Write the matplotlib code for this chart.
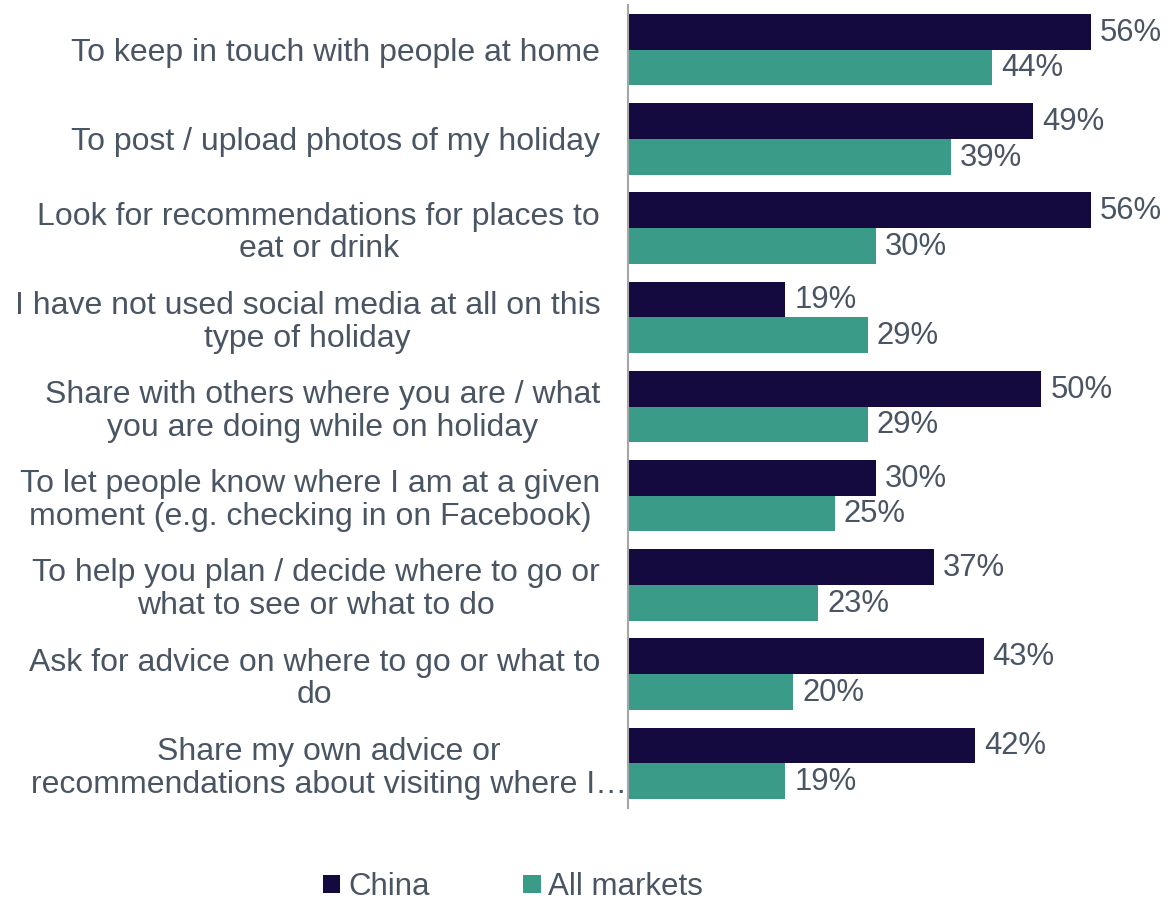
import matplotlib
matplotlib.use("Agg")
import matplotlib.pyplot as plt
from matplotlib.patches import Patch
from matplotlib.transforms import ScaledTranslation
import numpy as np

categories = [
    "To keep in touch with people at home",
    "To post / upload photos of my holiday",
    "Look for recommendations for places to\neat or drink",
    "I have not used social media at all on this\ntype of holiday",
    "Share with others where you are / what\nyou are doing while on holiday",
    "To let people know where I am at a given\nmoment (e.g. checking in on Facebook)",
    "To help you plan / decide where to go or\nwhat to see or what to do",
    "Ask for advice on where to go or what to\ndo",
    "Share my own advice or\nrecommendations about visiting where I\u2026",
]
china = [56, 49, 56, 19, 50, 30, 37, 43, 42]
all_markets = [44, 39, 30, 29, 29, 25, 23, 20, 19]
series_names = ["China", "All markets"]

CHINA_COLOR = "#140A40"
ALL_COLOR = "#3A9B88"
TEXT_COLOR = "#4A5563"
LABEL_FS = 23
VALUE_FS = 22.3
LEGEND_FS = 22.5

plt.rcParams["font.family"] = ["Liberation Sans", "DejaVu Sans"]

fig = plt.figure(figsize=(11.69, 9.01), dpi=100)
ax = fig.add_axes([628 / 1169, 1 - 808 / 901, 532 / 1169, 803 / 901])

y = np.arange(len(categories))
h = 0.4
ax.barh(y - h / 2, china, height=h, color=CHINA_COLOR)
ax.barh(y + h / 2, all_markets, height=h, color=ALL_COLOR)

for yi, v in zip(y - h / 2, china):
    ax.text(v + 1.1, yi + 0.01, f"{v}%", va="center", ha="left", fontsize=VALUE_FS, color=TEXT_COLOR)
for yi, v in zip(y + h / 2, all_markets):
    ax.text(v + 1.1, yi + 0.01, f"{v}%", va="center", ha="left", fontsize=VALUE_FS, color=TEXT_COLOR)

ax.set_xlim(0, 532 / 8.27)
ax.set_ylim(len(categories) - 0.5, -0.5)
ax.set_xticks([])
ax.set_yticks(y)
ax.set_yticklabels(categories, fontsize=LABEL_FS, color=TEXT_COLOR)
ax.tick_params(axis="y", length=0, pad=20)
tick_labels = ax.get_yticklabels()
for lab in tick_labels:
    lab.set_multialignment("center")
    lab.set_linespacing(1.12)
# the truncated last label runs up to the axis line
tick_labels[-1].set_transform(tick_labels[-1].get_transform()
                              + ScaledTranslation(0.27, 0, fig.dpi_scale_trans))

for s in ["top", "right", "bottom"]:
    ax.spines[s].set_visible(False)
ax.spines["left"].set_color("#A6A6A6")
ax.spines["left"].set_linewidth(1.5)

handles = [Patch(facecolor=CHINA_COLOR), Patch(facecolor=ALL_COLOR)]
leg = fig.legend(handles, series_names, loc="center", bbox_to_anchor=(0.439, 1 - 887 / 901),
                 ncol=2, frameon=False, fontsize=LEGEND_FS, handlelength=0.55, handleheight=0.55,
                 handletextpad=0.25, columnspacing=3.0, borderaxespad=0)
for t in leg.get_texts():
    t.set_color(TEXT_COLOR)

fig.savefig("out.png", dpi=100)
